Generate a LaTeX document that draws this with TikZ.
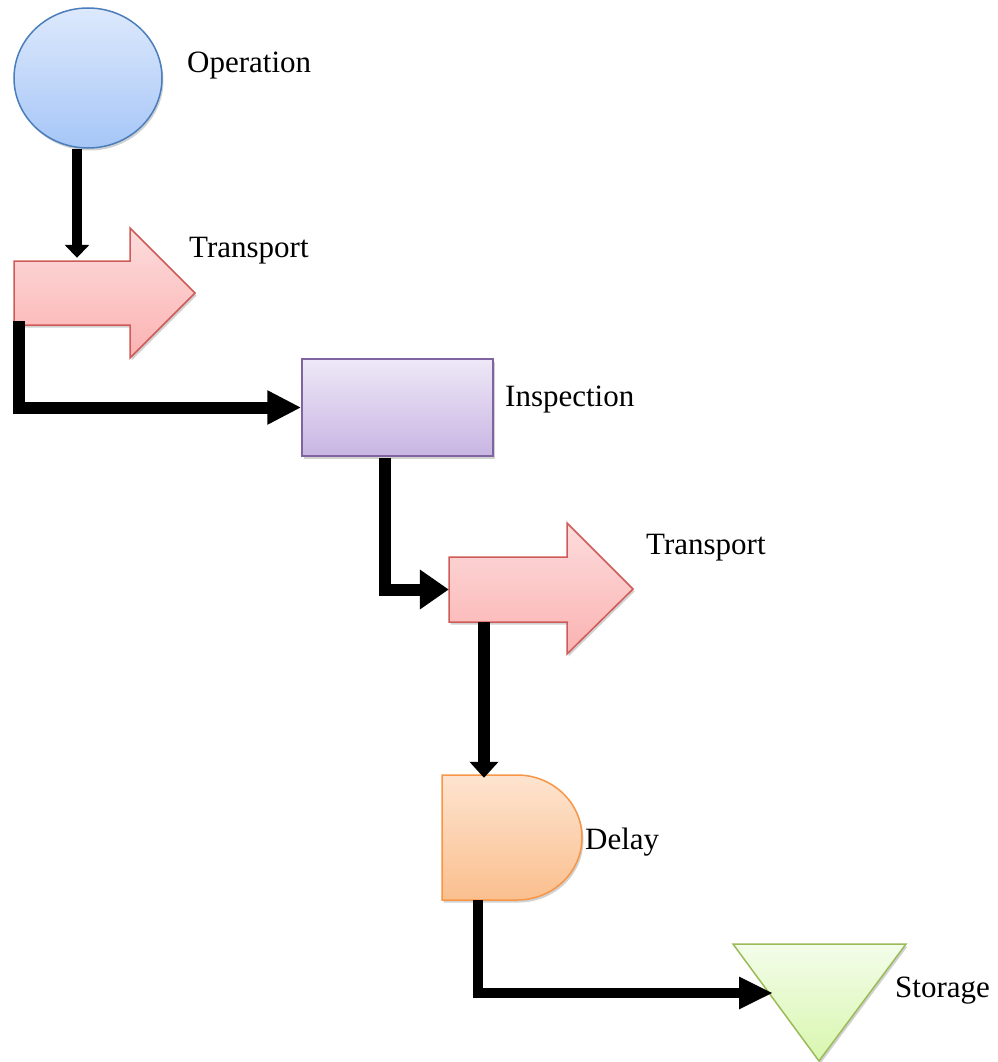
\documentclass[tikz,border=0pt]{standalone}
\usepackage{fontspec}
\setmainfont{Liberation Serif}
\usetikzlibrary{arrows.meta,calc,shapes.geometric,shadows}

\definecolor{opTop}{HTML}{DDE9FC}
\definecolor{opBot}{HTML}{A6C6F7}
\definecolor{opLine}{HTML}{4A7EBB}
\definecolor{trTop}{HTML}{FDDCDC}
\definecolor{trBot}{HTML}{FBB2B2}
\definecolor{trLine}{HTML}{CF5B58}
\definecolor{inTop}{HTML}{EEE8F7}
\definecolor{inBot}{HTML}{C8B5E3}
\definecolor{inLine}{HTML}{8064A2}
\definecolor{dlTop}{HTML}{FDE4D0}
\definecolor{dlBot}{HTML}{FBBF8E}
\definecolor{dlLine}{HTML}{F79646}
\definecolor{stTop}{HTML}{F3FDEA}
\definecolor{stBot}{HTML}{D8F6AE}
\definecolor{stLine}{HTML}{9BBB59}

\tikzset{
  softshadow/.style={drop shadow={shadow xshift=1.5pt,shadow yshift=-2.5pt,opacity=0.18,fill=black}},
  symbol/.style={line width=1.5pt,softshadow},
  anchorbox/.style={inner sep=0pt,draw=none},
  lbl/.style={anchor=base west,inner sep=0pt,font=\fontsize{31}{36}\selectfont},
  conn/.style={line width=12pt,line join=miter,line cap=butt,black},
}

\begin{document}
\begin{tikzpicture}[x=1pt,y=1pt]
\useasboundingbox (0,0) rectangle (997,-1062);

% Operation: circle
\node[ellipse,anchorbox,minimum width=148pt,minimum height=140pt,
      top color=opTop,bottom color=opBot,draw=opLine,symbol] (op) at (88,-78) {};

% Transport 1: block arrow
\path[symbol,top color=trTop,bottom color=trBot,draw=trLine]
  (14,-261) -- (130,-261) -- (130,-228) -- (195,-293) -- (130,-358)
  -- (130,-325) -- (14,-325) -- cycle;
\node[anchorbox,minimum width=116pt,minimum height=64pt] (tr1) at (72,-293) {};

% Inspection: rectangle
\node[anchorbox,minimum width=191pt,minimum height=97pt,
      top color=inTop,bottom color=inBot,draw=inLine,symbol] (insp) at (397.5,-407.5) {};

% Transport 2: block arrow
\path[symbol,top color=trTop,bottom color=trBot,draw=trLine]
  (449,-557) -- (567,-557) -- (567,-523) -- (633,-589) -- (567,-654)
  -- (567,-622) -- (449,-622) -- cycle;
\node[anchorbox,minimum width=118pt,minimum height=65pt] (tr2) at (508,-589.5) {};

% Delay: D shape
\path[symbol,top color=dlTop,bottom color=dlBot,draw=dlLine]
  (442,-775) -- (517,-775)
  arc[start angle=90,end angle=-90,x radius=65pt,y radius=62.5pt]
  -- (442,-900) -- cycle;
\node[anchorbox,minimum width=140pt,minimum height=125pt] (delay) at (512,-837.5) {};

% Storage: inverted triangle
\path[symbol,top color=stTop,bottom color=stBot,draw=stLine]
  (733,-944) -- (906,-944) -- (819,-1061) -- cycle;
\coordinate (stor) at (773,-993);

% Labels
\node[lbl] (opl) at (187,-73) {Operation};
\node[lbl] (tr1l) at (189,-257) {Transport};
\node[lbl] (inspl) at (505,-406) {Inspection};
\node[lbl] (tr2l) at (646,-554) {Transport};
\node[lbl] (delayl) at (585,-849) {Delay};
\node[lbl] (storl) at (895,-997) {Storage};

% Connectors
\coordinate (c1) at (77,0);
\draw[conn,line width=10pt,-{Triangle[length=13pt,width=24pt]}]
  (op.south -| c1) -- ($(tr1.north -| c1)+(0,3)$);

\draw[conn,-{Triangle[length=34pt,width=32pt]}]
  ($(tr1.south west)+(5.5,4)$) |- (insp.west);

\draw[conn,-{Triangle[length=29pt,width=38pt]}]
  ($(insp.south)+(-12.5,-1)$) |- (tr2.west);

\coordinate (c4) at (484,0);
\draw[conn,-{Triangle[length=16pt,width=28pt]}]
  (tr2.south -| c4) -- ($(delay.north -| c4)+(0,-3)$);

\draw[conn,line width=10pt,-{Triangle[length=34pt,width=30pt]}]
  ($(delay.south)+(-34,0)$) |- (stor);

\end{tikzpicture}
\end{document}
